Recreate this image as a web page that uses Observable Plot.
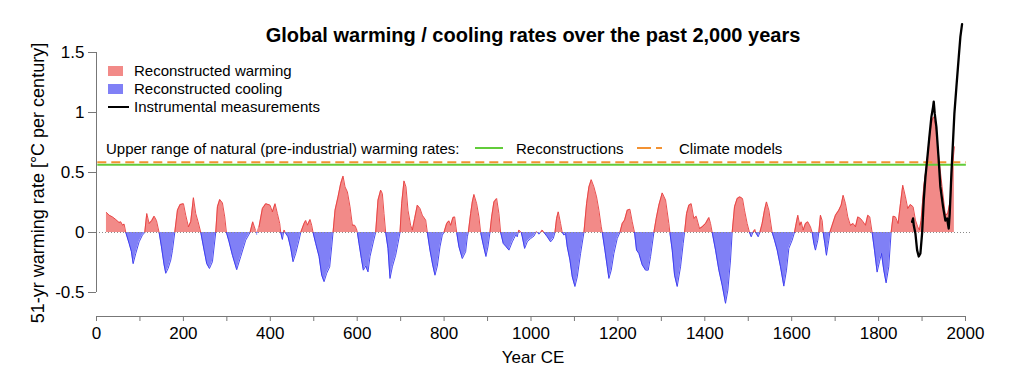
<!DOCTYPE html>
<html><head><meta charset="utf-8">
<script src="https://cdn.jsdelivr.net/npm/d3@7"></script>
<script src="https://cdn.jsdelivr.net/npm/@observablehq/plot@0.6"></script>
<style>
html,body{margin:0;padding:0;background:#fff;}
#wrap{position:relative;width:1024px;height:378px;font-family:"Liberation Sans",Arial,sans-serif;color:#000;overflow:hidden;}
#wrap svg{position:absolute;left:0;top:0;overflow:visible;}
.t{position:absolute;white-space:nowrap;}
</style></head><body>
<div id="wrap"></div>
<script>
// ---- Data ----
const reconYears = [22.9,29.1,36.7,44.4,52.1,55.9,59.7,63.6,67.4,75.1,80.4,84.3,90.4,98.1,105.7,111.1,115.7,121.1,127.2,132.6,138.0,144.1,149.5,155.6,159.4,164.8,170.9,174.8,180.1,186.3,192.4,200.1,205.4,211.6,216.9,223.1,228.4,233.8,240.0,247.6,253.7,259.9,266.8,274.4,278.3,283.6,289.8,295.1,299.0,305.1,312.8,322.7,332.0,343.4,353.4,359.6,365.7,368.8,374.1,381.8,389.5,399.4,404.8,410.9,416.3,421.7,424.0,427.8,430.5,432.0,434.0,440.8,447.0,452.3,458.5,466.1,470.0,
477.7,481.5,485.3,491.5,495.3,498.4,504.5,512.2,518.3,523.7,529.8,536.7,541.3,544.4,549.0,555.9,562.0,567.4,572.0,577.4,583.5,588.9,594.2,598.1,600.4,604.2,609.6,614.2,619.5,624.9,629.5,637.2,642.5,647.9,654.0,657.9,661.7,665.5,670.9,675.5,680.9,688.5,693.9,698.5,702.3,707.7,712.3,716.9,723.0,726.9,732.2,738.4,744.5,749.9,757.6,761.4,767.5,773.7,779.0,784.4,790.5,795.9,799.7,805.9,811.2,815.1,820.4,824.3,827.3,828.9,834.2,841.9,849.6,853.4,855.7,861.1,864.9,868.7,874.9,880.2,884.1,890.2,896.3,900.9,905.5,909.4,914.7,920.9,926.2,930.1,936.2,941.6,949.3,956.9,
960.8,964.6,968.4,970.5,972.3,976.1,977.5,979.9,985.3,991.4,999.1,1006.8,1011.0,1012.9,1015.0,1018.3,1022.0,1025.9,1029.8,1037.4,1045.1,1051.3,1055.1,1058.9,1062.8,1068.1,1071.9,1075.8,1079.6,1083.5,1089.6,1095.0,1101.1,1106.5,1114.1,1121.8,1127.9,1133.3,1138.7,1144.8,1150.9,1156.3,1161.7,1164.0,1170.1,1175.5,1179.3,1184.7,1190.8,1198.5,1204.6,1210.0,1215.3,1221.5,1227.6,1233.0,1238.3,1242.9,1248.3,1256.0,1263.6,1269.8,1275.2,1282.8,1288.2,1294.3,1302.0,1309.7,1317.3,1319.6,1325.0,1330.4,1336.5,1344.2,1350.3,1353.4,1358.0,1363.3,1368.7,1374.8,1380.2,1387.9,1394.0,1401.7,1409.4,1413.2,1417.0,1424.7,1432.4,1440.0,1447.7,
1453.1,1459.2,1463.0,1468.4,1474.5,1480.7,1486.8,1491.4,1497.5,1502.9,1506.8,1510.6,1515.2,1517.0,1522.8,1526.7,1532.0,1537.4,1542.0,1547.4,1555.0,1560.4,1566.6,1574.2,1581.9,1588.0,1593.4,1601.1,1606.4,1610.3,1614.1,1618.7,1621.8,1626.4,1631.7,1637.1,1643.2,1647.1,1650.9,1654.7,1660.1,1662.4,1666.2,1670.1,1672.4,1676.2,1680.0,1685.4,1687.7,1693.1,1700.7,1708.4,1713.8,1718.4,1723.8,1729.1,1735.2,1741.4,1746.8,1752.1,1758.3,1764.4,1769.8,1775.1,1779.7,1785.1,1790.5,1796.6,1802.0,1806.6,1811.9,1817.3,1823.4,1828.8,1833.4,1838.8,1844.9,1850.3,1855.6,1861.8,1867.1,1873.3,1879.4,1884.8,1890.1,1893.9,1897.8,1903.9,1911.6,1917.7,1923.1,1926.9,1933.0,1938.4,1946.1,1953.7,1959.1,1965.2,1970.6,1974.4];
const reconRates = [0.167,0.144,0.13,0.108,0.083,0.089,0.061,0.07,0,-0.092,-0.16,-0.26,-0.175,-0.078,-0.022,0,0.158,0.075,0.10,0.136,0.10,0,-0.12,-0.27,-0.34,-0.30,-0.23,-0.15,0,0.186,0.233,0.24,0.144,0.047,0.09,0.29,0.158,0.09,0,-0.147,-0.26,-0.30,-0.244,0,0.214,0.275,0.247,0.13,0,-0.078,-0.19,-0.31,-0.2,-0.064,0,0.089,0.02,-0.014,0.047,0.2,0.24,0.228,0.172,0.24,0.158,0.075,0,-0.058,0,0.02,0,-0.036,-0.13,-0.244,-0.175,-0.064,0,
0.075,0.10,0.061,0.108,0.06,0,-0.092,-0.2,-0.356,-0.41,-0.34,-0.286,-0.12,0,0.186,0.297,0.408,0.47,0.38,0.339,0.214,0.061,0.06,0.033,0,-0.092,-0.217,-0.314,-0.28,-0.328,-0.2,-0.078,0,0.27,0.353,0.325,0.158,0,-0.133,-0.383,-0.286,-0.19,-0.09,0,0.24,0.43,0.38,0.186,0.06,0.02,0.117,0.228,0.2,0.144,0.103,0,-0.147,-0.27,-0.356,-0.28,-0.12,-0.022,0,0.075,0.097,0.06,0.125,0.13,0.047,0,-0.12,-0.217,-0.16,-0.036,0,0.158,0.255,0.317,0.24,0.13,0,-0.105,-0.2,-0.12,0,0.13,0.255,0.283,0.158,0,-0.092,-0.114,-0.147,-0.078,
-0.05,-0.022,-0.036,0,0.02,0.005,0,-0.036,-0.133,-0.078,-0.05,-0.03,0,0.005,0,-0.014,0,0.02,0,-0.036,-0.078,-0.05,0,0.117,0.172,0.075,0,-0.022,-0.008,-0.12,-0.23,-0.37,-0.45,-0.37,-0.175,0,0.24,0.38,0.44,0.38,0.297,0.186,0.047,0,-0.147,-0.286,-0.383,-0.314,-0.175,-0.05,0,0.075,0.103,0.186,0.194,0.089,0,-0.147,-0.175,-0.27,-0.314,-0.314,-0.2,0,0.117,0.228,0.33,0.27,0.075,0,-0.147,-0.356,-0.45,-0.286,-0.092,0,0.158,0.228,0.24,0.117,0.136,0.033,0.047,0.075,0.125,0.075,0,-0.147,-0.314,-0.44,-0.59,
-0.48,-0.23,0,0.214,0.283,0.297,0.283,0.186,0.075,0,-0.036,0,0.025,0,-0.036,0,0.075,0.186,0.255,0.186,0,-0.064,-0.147,-0.286,-0.447,-0.314,-0.133,-0.064,0,0.075,0.144,0.06,0.089,0.02,0.075,0.089,0.047,0,-0.09,-0.147,-0.064,0,0.144,0.10,0,-0.09,-0.19,-0.064,0,0.06,0.144,0.186,0.228,0.31,0.24,0.13,0.06,0.075,0.047,0.13,0.117,0.089,0.06,0.144,0.13,0,-0.147,-0.33,-0.244,-0.175,-0.314,-0.42,-0.286,0,0.136,0.13,0.075,0.24,0.394,0.297,0.2,0.233,0.214,0.103,0.047,0.02,0.10,0.38,0.6,0.825,0.936,0.964,0.825,0.63,0.38,0.144,0.158,0.27,0.575,0.714];

const instYears = [1877.0,1879.3,1880.9,1884.7,1888.6,1892.4,1896.2,1900.1,1903.9,1907.7,1911.6,1916.9,1921.5,1925.4,1926.9,1929.2,1933.0,1938.4,1942.2,1948.4,1953.7,1957.6,1961.4,1963.7,1967.5,1971.4,1974.4,1979.0,1984.4,1988.2,1992.1];
const instRates = [0.089,0.117,0.06,-0.008,-0.147,-0.2,-0.175,-0.008,0.27,0.46,0.6,0.8,0.964,1.047,1.09,0.99,0.88,0.6,0.38,0.214,0.10,0.117,0.033,0.158,0.49,0.77,0.99,1.21,1.46,1.63,1.736];

const naturalRateReconstructions = 0.565;
const naturalRateModels = 0.585;
const thresholdYears = [3, 2002];
const zeroLineYears = [0, 2014];

const xTicks = [0,100,200,300,400,500,600,700,800,900,1000,1100,1200,1300,1400,1500,1600,1700,1800,1900,2000];
const xLabelTicks = [0,200,400,600,800,1000,1200,1400,1600,1800,2000];
const yTicks = [-0.5,0,0.5,1,1.5];
const yDomain = [-0.70, 1.75];

const titleText = "Global warming / cooling rates over the past 2,000 years";
const yLabelText = "51-yr warming rate [°C per century]";
const xLabelText = "Year CE";
const legendWarm = "Reconstructed warming";
const legendCool = "Reconstructed cooling";
const legendInst = "Instrumental measurements";
const rangeText = "Upper range of natural (pre-industrial) warming rates:";
const rangeRecon = "Reconstructions";
const rangeModels = "Climate models";

// ---- Styles ----
const warmFill = "#f28a88", warmStroke = "#e63c3c";
const coolFill = "#8080f6", coolStroke = "#3535ee";
const greenCol = "#62cc3a", orangeCol = "#f39232";
const FONT = '"Liberation Sans", Arial, sans-serif';

const recon = reconYears.map((year, i) => ({year, rate: reconRates[i]}));
const inst = instYears.map((year, i) => ({year, rate: instRates[i]}));

const chart = Plot.plot({
  width: 1024, height: 378,
  marginLeft: 96, marginRight: 59, marginTop: 22, marginBottom: 62,
  x: {domain: [xTicks[0], xTicks[xTicks.length - 1]]},
  y: {domain: yDomain},
  style: {fontFamily: FONT, background: "transparent", overflow: "visible"},
  marks: [
    Plot.area(recon, {x1: "year", y1: 0, y2: d => Math.max(d.rate, 0), fill: warmFill}),
    Plot.area(recon, {x1: "year", y1: 0, y2: d => Math.min(d.rate, 0), fill: coolFill}),
    Plot.line(recon, {x: "year", y: d => d.rate >= 0 ? d.rate : NaN, stroke: warmStroke, strokeWidth: 0.9}),
    Plot.line(recon, {x: "year", y: d => d.rate <= 0 ? d.rate : NaN, stroke: coolStroke, strokeWidth: 0.9}),
    Plot.ruleY([0], {x1: zeroLineYears[0], x2: zeroLineYears[1], stroke: "#8a8a8a", strokeWidth: 1, strokeDasharray: "1,2"}),
    Plot.ruleY([naturalRateReconstructions], {x1: thresholdYears[0], x2: thresholdYears[1], stroke: greenCol, strokeWidth: 2}),
    Plot.ruleY([naturalRateModels], {x1: thresholdYears[0], x2: thresholdYears[1], stroke: orangeCol, strokeWidth: 2, strokeDasharray: "9,5"}),
    Plot.line(inst, {x: "year", y: "rate", stroke: "#000", strokeWidth: 2.3, strokeLinejoin: "round"}),
    Plot.ruleX([xTicks[0]], {y1: yTicks[0], y2: yTicks[yTicks.length - 1], stroke: "#777"}),
    Plot.ruleY([yDomain[0]], {x1: xTicks[0], x2: xTicks[xTicks.length - 1], stroke: "#777"}),
    Plot.axisY({ticks: yTicks, tickSize: 8, tickPadding: 4, tickFormat: d => String(d), label: null, fontSize: 17, stroke: "#777", fill: "#000"}),
    Plot.axisX({ticks: xTicks, tickSize: 5, tickPadding: 5, tickFormat: d => xLabelTicks.includes(d) ? String(d) : "", label: null, fontSize: 17, stroke: "#777", fill: "#000"})
  ]
});

const wrap = document.getElementById("wrap");
wrap.appendChild(chart);

function addText(txt, left, top, size, extra) {
  const d = document.createElement("div");
  d.className = "t";
  d.textContent = txt;
  d.style.left = left + "px";
  d.style.top = top + "px";
  d.style.fontSize = size + "px";
  d.style.lineHeight = size + "px";
  if (extra) Object.assign(d.style, extra);
  wrap.appendChild(d);
  return d;
}
function addBox(left, top, w, h, bg, extra) {
  const d = document.createElement("div");
  d.style.position = "absolute";
  d.style.left = left + "px"; d.style.top = top + "px";
  d.style.width = w + "px"; d.style.height = h + "px";
  d.style.background = bg;
  if (extra) Object.assign(d.style, extra);
  wrap.appendChild(d);
}

// Title
addText(titleText, 0, 25, 20, {width: "1066px", textAlign: "center", fontWeight: "bold"});
// Axis labels
addText(xLabelText, 0, 349, 17, {width: "1066px", textAlign: "center"});
addText(yLabelText, 38 - 200, 174, 18, {width: "400px", textAlign: "center", transform: "rotate(-90deg)", transformOrigin: "200px 9px"});

// Legend
addBox(108, 66, 15, 10, warmFill);
addText(legendWarm, 134, 63, 15);
addBox(108, 84, 15, 10, coolFill);
addText(legendCool, 134, 81, 15);
addBox(108, 106, 21, 2, "#000");
addText(legendInst, 134, 99, 15);

addText(rangeText, 106, 141, 15);
addBox(475, 147, 28, 2, greenCol);
addText(rangeRecon, 516, 141, 15);
addBox(637, 147, 14, 2, orangeCol);
addBox(656, 147, 6, 2, orangeCol);
addText(rangeModels, 679, 141, 15);
</script>
</body></html>
